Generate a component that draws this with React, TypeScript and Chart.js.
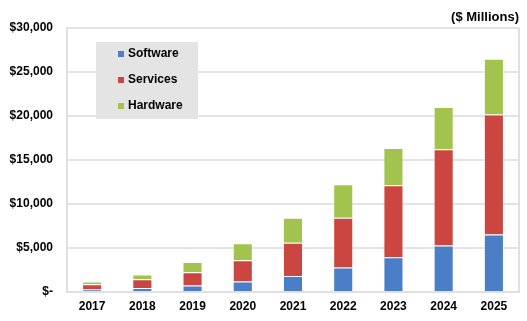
import React, { useEffect, useRef } from "react";
import { Chart, registerables } from "chart.js";

Chart.register(...registerables);

const categories = ["2017", "2018", "2019", "2020", "2021", "2022", "2023", "2024", "2025"];
const software = [270, 455, 725, 1180, 1820, 2770, 3940, 5270, 6520];
const services = [605, 985, 1515, 2420, 3790, 5680, 8180, 10940, 13640];
const hardware = [305, 535, 1170, 1930, 2840, 3790, 4250, 4810, 6350];
const seriesNames = ["Software", "Services", "Hardware"];
const seriesColors = ["#4a7fc7", "#cb4541", "#a2c44f"];
const unitLabel = "($ Millions)";

const FONT = "'Liberation Sans', Arial, sans-serif";

const overlayPlugin = {
  id: "overlay",
  afterDraw(chart: any) {
    const ctx = chart.ctx;
    const area = chart.chartArea;
    ctx.save();
    // right border
    ctx.strokeStyle = "#e0e0e0";
    ctx.lineWidth = 2;
    ctx.beginPath();
    ctx.moveTo(area.right, area.top);
    ctx.lineTo(area.right, area.bottom);
    ctx.stroke();
    // unit label
    ctx.fillStyle = "#000";
    ctx.font = `bold 13px ${FONT}`;
    ctx.textAlign = "right";
    ctx.textBaseline = "middle";
    ctx.fillText(unitLabel, area.right, 17);
    // legend box
    const bx = 96, by = 42, bw = 102, bh = 77;
    ctx.fillStyle = "#e4e4e4";
    ctx.fillRect(bx, by, bw, bh);
    ctx.textAlign = "left";
    ctx.font = `bold 12px ${FONT}`;
    seriesNames.forEach((name, i) => {
      const cy = 54 + i * 26;
      ctx.fillStyle = seriesColors[i];
      ctx.fillRect(118, cy - 3, 6, 6);
      ctx.fillStyle = "#000";
      ctx.fillText(name, 128, cy);
    });
    ctx.restore();
  },
};

export default function App() {
  const ref = useRef<HTMLCanvasElement>(null);
  useEffect(() => {
    document.body.style.margin = "0";
    const data = [software, services, hardware];
    const chart = new Chart(ref.current!, {
      type: "bar",
      data: {
        labels: categories,
        datasets: seriesNames.map((name, i) => ({
          label: name,
          data: data[i],
          backgroundColor: seriesColors[i],
          borderColor: "rgba(255,255,255,0.35)",
          borderWidth: 1,
          categoryPercentage: 1,
          barPercentage: 0.4,
        })),
      },
      options: {
        animation: false,
        responsive: false,
        maintainAspectRatio: false,
        layout: { padding: { top: 28, right: 8, left: 0, bottom: 0 } },
        plugins: {
          legend: { display: false },
          tooltip: { enabled: false },
          title: { display: false },
        },
        scales: {
          x: {
            stacked: true,
            grid: { display: false, drawTicks: false },
            border: { display: true, color: "#e0e0e0", width: 2 },
            ticks: {
              color: "#000",
              font: { family: FONT, size: 12, weight: "bold" },
              padding: 7,
            },
            afterFit(s: any) {
              s.height = 29;
            },
          },
          y: {
            stacked: true,
            min: 0,
            max: 30000,
            grid: { color: "#e3e3e3", lineWidth: 2, drawTicks: false },
            border: { display: true, color: "#e0e0e0", width: 2 },
            ticks: {
              stepSize: 5000,
              color: "#000",
              padding: 14,
              font: { family: FONT, size: 12, weight: "bold" },
              callback: (v: any) => (v === 0 ? "$-" : "$" + Number(v).toLocaleString("en-US")),
            },
            afterFit(s: any) {
              s.width = 67;
            },
          },
        },
      },
      plugins: [overlayPlugin],
    });
    return () => chart.destroy();
  }, []);
  return (
    <div style={{ position: "absolute", left: 0, top: 0, width: 527, height: 321, background: "#fff" }}>
      <canvas ref={ref} width={527} height={321} style={{ width: 527, height: 321 }} />
    </div>
  );
}
